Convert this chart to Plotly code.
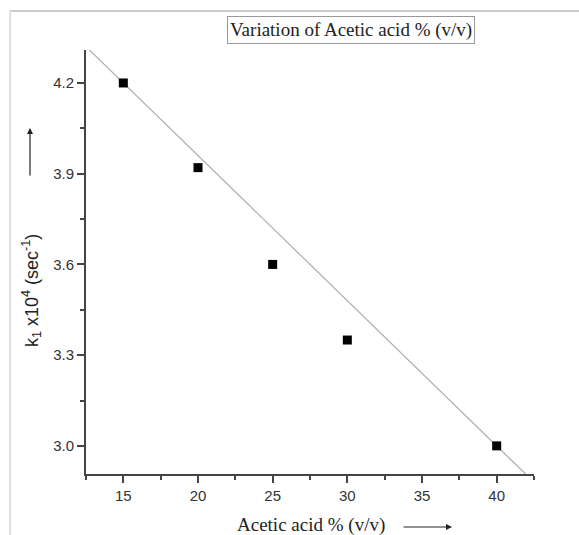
import plotly.graph_objects as go

# Data
acetic_pct = [15, 20, 25, 30, 40]
k1_values = [4.20, 3.92, 3.60, 3.35, 3.00]
fit_x = [12.5, 41.94]
fit_y = [4.32, 2.907]
x_ticks = [15, 20, 25, 30, 35, 40]
y_ticks = [3.0, 3.3, 3.6, 3.9, 4.2]
y_ticklabels = ["3.0", "3.3", "3.6", "3.9", "4.2"]

W, H = 579, 535
L, R, T, B = 86, 45, 50, 61
pw, ph = W - L - R, H - T - B

def px(xp):
    return (xp - L) / pw

def py(yp):
    return (H - B - yp) / ph

fig = go.Figure()
fig.add_trace(go.Scatter(x=fit_x, y=fit_y, mode="lines",
                         line=dict(color="#adadad", width=1.2), showlegend=False))
fig.add_trace(go.Scatter(x=acetic_pct, y=k1_values, mode="markers",
                         marker=dict(symbol="square", size=9, color="black"),
                         showlegend=False))

axis_col = "#444444"
tickfont = dict(family="Liberation Sans, Arial", size=15, color="#333333")
fig.update_xaxes(range=[12.5, 42.5], tickvals=x_ticks, ticks="outside", ticklen=7,
                 tickwidth=1.5, tickcolor=axis_col, showline=True, linecolor=axis_col,
                 linewidth=2, showgrid=False, zeroline=False, tickfont=tickfont,
                 minor=dict(dtick=2.5, tick0=15, ticks="outside", ticklen=4,
                            tickwidth=1.5, tickcolor=axis_col, showgrid=False))
fig.update_yaxes(range=[2.907, 4.309], tickvals=y_ticks, ticktext=y_ticklabels,
                 ticks="outside", ticklen=7, tickwidth=1.5, tickcolor=axis_col,
                 showline=True, linecolor=axis_col, linewidth=2, showgrid=False,
                 zeroline=False, tickfont=tickfont,
                 minor=dict(dtick=0.15, tick0=3.0, ticks="outside", ticklen=4,
                            tickwidth=1.5, tickcolor=axis_col, showgrid=False))

annotations = [
    dict(text="Variation of Acetic acid % (v/v)", x=px(350.5), y=py(30), xref="paper",
         yref="paper", showarrow=False, xanchor="center", yanchor="middle",
         font=dict(family="Liberation Serif, Times New Roman", size=19, color="#222222"),
         bordercolor="#999999", borderwidth=1, borderpad=2, bgcolor="white"),
    dict(text="Acetic acid % (v/v)", x=px(311), y=py(525), xref="paper", yref="paper",
         showarrow=False, xanchor="center", yanchor="middle",
         font=dict(family="Liberation Serif, Times New Roman", size=19, color="#222222")),
    dict(text="k<sub>1</sub> x10<sup>4</sup> (sec<sup>-1</sup>)", x=px(31), y=py(291),
         xref="paper", yref="paper", showarrow=False, textangle=-90,
         xanchor="center", yanchor="middle",
         font=dict(family="Liberation Sans, Arial", size=18, color="#222222")),
    # arrows
    dict(x=px(452), y=py(527), xref="paper", yref="paper", ax=-50, ay=0, text="",
         showarrow=True, arrowhead=2, arrowsize=1, arrowwidth=1.2, arrowcolor="#222222"),
    dict(x=px(30), y=py(128), xref="paper", yref="paper", ax=0, ay=49, text="",
         showarrow=True, arrowhead=2, arrowsize=1, arrowwidth=1.2, arrowcolor="#222222"),
]

shapes = [
    dict(type="line", xref="paper", yref="paper", x0=px(10), x1=px(579),
         y0=py(11), y1=py(11), line=dict(color="#cccccc", width=2)),
    dict(type="line", xref="paper", yref="paper", x0=px(10), x1=px(10),
         y0=py(11), y1=py(535), line=dict(color="#e0e0e0", width=2)),
]

fig.update_layout(width=W, height=H, margin=dict(l=L, r=R, t=T, b=B),
                  paper_bgcolor="white", plot_bgcolor="white",
                  annotations=annotations, shapes=shapes)

fig.write_html("out.html", config={"displayModeBar": False},
               post_script="document.body.style.margin='0';document.body.style.overflow='hidden';")
